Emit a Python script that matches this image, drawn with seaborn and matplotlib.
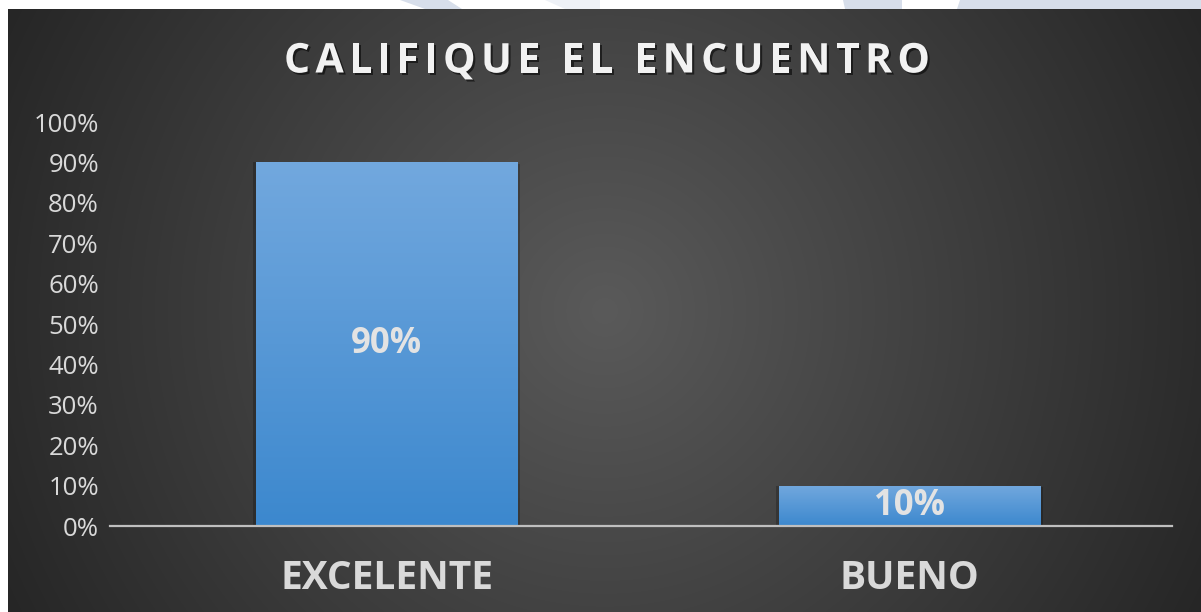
import numpy as np
import matplotlib
matplotlib.use("Agg")
import matplotlib.pyplot as plt
import matplotlib.patheffects as pe
from matplotlib.patches import Polygon
from matplotlib.ticker import PercentFormatter
import seaborn as sns
import pandas as pd

# Survey result: rating of the meeting
categories = ["EXCELENTE", "BUENO"]
values = [0.90, 0.10]
value_labels = ["90%", "10%"]
title = "CALIFIQUE EL ENCUENTRO"

W, H = 1201, 612
sns.set_theme(style="white")
plt.rcParams["font.family"] = ["Open Sans", "DejaVu Sans"]

fig = plt.figure(figsize=(W / 100, H / 100), dpi=100, facecolor="white")

# light decorative shapes along the top white strip
deco = [
    ([(400, 0), (448, 0), (462, 9), (425, 9)], "#d7deea"),
    ([(545, 0), (600, 0), (600, 9), (565, 9)], "#eef1f6"),
    ([(843, 0), (902, 0), (902, 9), (845, 9)], "#d7deea"),
    ([(960, 0), (1201, 0), (1201, 9), (957, 9)], "#d7deea"),
]
for pts, col in deco:
    fig.patches.append(Polygon([(x / W, 1 - y / H) for x, y in pts],
                               closed=True, transform=fig.transFigure,
                               facecolor=col, edgecolor="none", zorder=0))

# dark panel with a radial gradient
px0, py0 = 8, 9
pw, ph = W - px0, H - py0
bg = fig.add_axes([px0 / W, 0, pw / W, ph / H], zorder=0)
xx, yy = np.meshgrid(np.arange(pw), np.arange(ph))
cx, cy = pw * 0.5, ph * 0.5
r = np.sqrt((xx - cx) ** 2 + (yy - cy) ** 2)
t = np.clip(r / np.sqrt(cx ** 2 + cy ** 2), 0, 1)
c0, c1 = 0x5a / 255, 0x26 / 255
shade = c0 + (c1 - c0) * t
bg.imshow(np.dstack([shade] * 3), aspect="auto", interpolation="bilinear")
bg.set_axis_off()

# plotting axes
ax_l, ax_r, ax_b, ax_t = 110, 1172, 526, 122
ax = fig.add_axes([ax_l / W, 1 - ax_b / H, (ax_r - ax_l) / W, (ax_b - ax_t) / H], zorder=1)
ax.patch.set_alpha(0)

df = pd.DataFrame({"cat": categories, "val": values})
sns.barplot(data=df, x="cat", y="val", ax=ax, width=0.5, color="#5b9bd5",
            saturation=1, edgecolor="none")

ax.set_ylim(0, 1)
ax.set_xlim(-0.529, 1.502)
ax.yaxis.set_major_locator(plt.MultipleLocator(0.1))
ax.yaxis.set_major_formatter(PercentFormatter(1.0, decimals=0))
ax.set_xlabel("")
ax.set_ylabel("")
for s in ["top", "right", "left"]:
    ax.spines[s].set_visible(False)
ax.spines["bottom"].set_color("#bfbfbf")
ax.spines["bottom"].set_linewidth(1.6)
ax.spines["bottom"].set_zorder(5)
ax.tick_params(axis="y", length=0, pad=8, labelsize=18.5, labelcolor="#d9d9d9")
ax.tick_params(axis="x", length=0, pad=24, labelsize=28, labelcolor="#d9d9d9")
for lab in ax.get_xticklabels():
    lab.set_fontweight("bold")

# vertical gradient inside each bar (lighter at the top)
top_col = np.array([0x72, 0xa8, 0xde]) / 255
bot_col = np.array([0x3c, 0x88, 0xce]) / 255
grad = np.linspace(0, 1, 256)[:, None]
grad_img = top_col[None, None, :] * (1 - grad[..., None]) + bot_col[None, None, :] * grad[..., None]
for bar in ax.patches:
    bx, by = bar.get_x(), bar.get_y()
    bw, bh = bar.get_width(), bar.get_height()
    bar.set_path_effects([
        pe.SimplePatchShadow(offset=(-2, 0), shadow_rgbFace="black", alpha=0.22),
        pe.SimplePatchShadow(offset=(2, -1), shadow_rgbFace="black", alpha=0.22),
        pe.Normal(),
    ])
    im = ax.imshow(np.repeat(grad_img, 2, axis=1), extent=[bx, bx + bw, by, by + bh],
                   origin="upper", aspect="auto", zorder=bar.get_zorder() + 0.1,
                   interpolation="bilinear")
    im.set_clip_path(bar)
ax.set_ylim(0, 1)
ax.set_xlim(-0.529, 1.502)

# value labels centred in the bars
for i, (v, lab) in enumerate(zip(values, value_labels)):
    ax.text(i, v / 2, lab, ha="center", va="center", fontsize=25,
            fontweight="bold", color="#e3e3e3", zorder=6)

# title with widened letter spacing
renderer = fig.canvas.get_renderer()
tkw = dict(fontsize=29.5, fontweight="bold", color="#f2f2f2")


def text_width(s):
    tt = fig.text(0, 0, s, **tkw)
    w = tt.get_window_extent(renderer).width
    tt.remove()
    return w


ref_w = text_width("I")
offsets = [0.0] + [text_width(title[:i] + "I") - ref_w for i in range(1, len(title))]
natural = text_width(title)
span = 646
spacing = max(0.0, (span - natural) / (len(title) - 1))
x_start = 607 - (natural + spacing * (len(title) - 1)) / 2
for i, ch in enumerate(title):
    if ch == " ":
        continue
    fig.text((x_start + offsets[i] + i * spacing) / W, 1 - 62 / H, ch,
             ha="left", va="center", zorder=3,
             path_effects=[pe.withSimplePatchShadow(offset=(1.5, -1.5),
                                                    shadow_rgbFace="black", alpha=0.55)],
             **tkw)

fig.savefig("out.png", dpi=100, facecolor="white")
